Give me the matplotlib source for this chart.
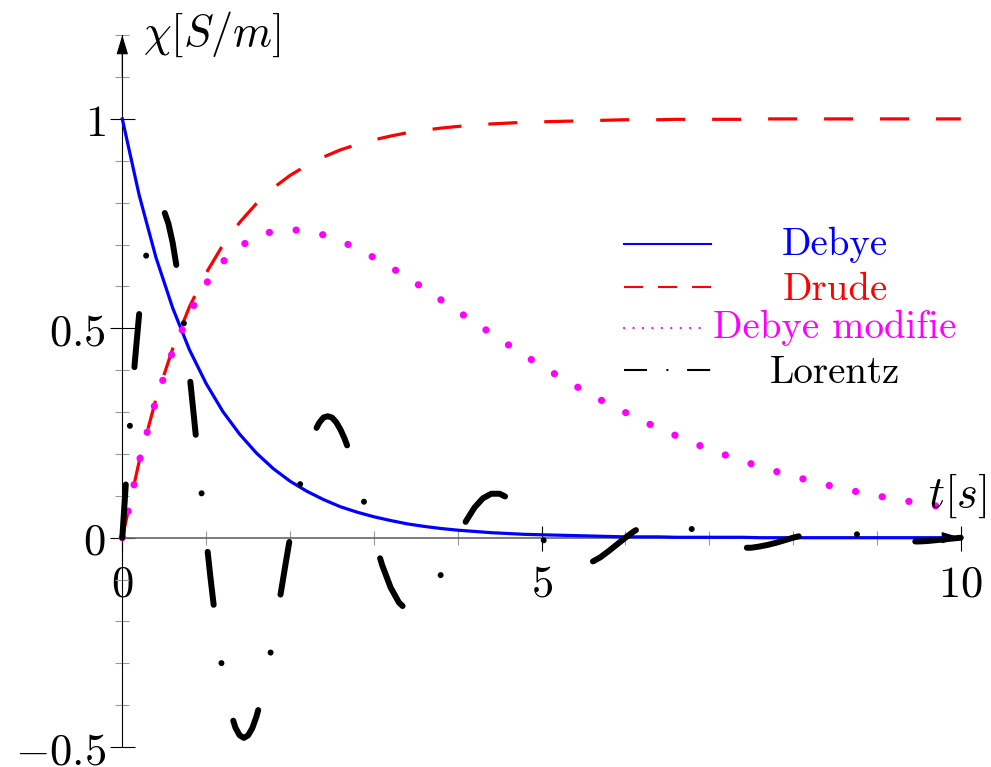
import numpy as np
import matplotlib
matplotlib.use('Agg')
import matplotlib.pyplot as plt
from matplotlib.lines import Line2D

plt.rcParams['mathtext.fontset'] = 'cm'
plt.rcParams['lines.scale_dashes'] = False     # dash patterns in points

# ---- data ----
t_smooth = np.linspace(0, 10, 51)              # every 0.2 s
debye = [1.000, 0.819, 0.670, 0.549, 0.449, 0.368, 0.301, 0.247, 0.202, 0.165,
         0.135, 0.111, 0.091, 0.074, 0.061, 0.050, 0.041, 0.033, 0.027, 0.022,
         0.018, 0.015, 0.012, 0.010, 0.008, 0.007, 0.006, 0.005, 0.004, 0.003,
         0.002, 0.002, 0.002, 0.001, 0.001, 0.001, 0.001, 0.001, 0.000, 0.000,
         0.000, 0.000, 0.000, 0.000, 0.000, 0.000, 0.000, 0.000, 0.000, 0.000,
         0.000]
drude = [0.000, 0.181, 0.330, 0.451, 0.551, 0.632, 0.699, 0.753, 0.798, 0.835,
         0.865, 0.889, 0.909, 0.926, 0.939, 0.950, 0.959, 0.967, 0.973, 0.978,
         0.982, 0.985, 0.988, 0.990, 0.992, 0.993, 0.994, 0.995, 0.996, 0.997,
         0.998, 0.998, 0.998, 0.999, 0.999, 0.999, 0.999, 0.999, 1.000, 1.000,
         1.000, 1.000, 1.000, 1.000, 1.000, 1.000, 1.000, 1.000, 1.000, 1.000,
         1.000]
debye_mod = [0.000, 0.181, 0.327, 0.444, 0.536, 0.607, 0.659, 0.695, 0.719, 0.732,
             0.736, 0.732, 0.723, 0.709, 0.690, 0.669, 0.646, 0.621, 0.595, 0.568,
             0.541, 0.514, 0.488, 0.461, 0.435, 0.410, 0.386, 0.363, 0.340, 0.319,
             0.299, 0.279, 0.261, 0.244, 0.227, 0.211, 0.197, 0.183, 0.170, 0.158,
             0.147, 0.136, 0.126, 0.117, 0.108, 0.100, 0.093, 0.086, 0.079, 0.073,
             0.067]

# Lorentz: every 0.05 s up to 3 s, then every 0.1 s
t_lorentz = np.concatenate([np.linspace(0, 3, 61), np.linspace(3.1, 10, 70)])
lorentz = [0.000, 0.153, 0.294, 0.421, 0.532, 0.624, 0.696, 0.748, 0.779, 0.789,
           0.779, 0.750, 0.705, 0.644, 0.570, 0.486, 0.394, 0.297, 0.197, 0.097,
           0.000, -0.093, -0.178, -0.256, -0.323, -0.379, -0.422, -0.454, -0.472, -0.478,
           -0.472, -0.455, -0.427, -0.390, -0.346, -0.295, -0.239, -0.180, -0.120, -0.059,
           0.000, 0.056, 0.108, 0.155, 0.196, 0.230, 0.256, 0.275, 0.287, 0.290,
           0.287, 0.276, 0.259, 0.237, 0.210, 0.179, 0.145, 0.109, 0.073, 0.036,
           0.000,
           -0.066, -0.119, -0.155, -0.174, -0.174, -0.157, -0.127, -0.088, -0.044, 0.000,
           0.040, 0.072, 0.094, 0.105, 0.105, 0.095, 0.077, 0.053, 0.027, 0.000,
           -0.024, -0.044, -0.057, -0.064, -0.064, -0.058, -0.047, -0.032, -0.016, 0.000,
           0.015, 0.027, 0.035, 0.039, 0.039, 0.035, 0.028, 0.020, 0.010, 0.000,
           -0.009, -0.016, -0.021, -0.024, -0.024, -0.021, -0.017, -0.012, -0.006, 0.000,
           0.005, 0.010, 0.013, 0.014, 0.014, 0.013, 0.010, 0.007, 0.004, 0.000,
           -0.003, -0.006, -0.008, -0.009, -0.009, -0.008, -0.006, -0.004, -0.002, 0.000]

x_major = [0, 5, 10]
x_labels = ['$0$', '$5$', '$10$']
x_minor = [1, 2, 3, 4, 6, 7, 8, 9]
y_major = [-0.5, 0, 0.5, 1]
y_labels = ['$-0.5$', '$0$', '$0.5$', '$1$']
y_minor = [-0.4, -0.3, -0.2, -0.1, 0.1, 0.2, 0.3, 0.4, 0.6, 0.7, 0.8, 0.9, 1.1, 1.2]

names = ['Debye', 'Drude', 'Debye modifie', 'Lorentz']
colors = ['blue', 'red', 'magenta', 'black']

# ---- figure ----
W, H = 991, 767
fig = plt.figure(figsize=(W / 100, H / 100), dpi=100)
ax = fig.add_axes([0, 0, 1, 1])
ax.set_xlim(-1.4586, 10.360)
ax.set_ylim(-0.5475, 1.2839)

ax.plot(t_smooth, debye, color=colors[0], lw=2.3, zorder=3)
ax.plot(t_smooth, drude, color=colors[1], lw=2.3, ls=(0, (20.9, 19.4)),
        dash_capstyle='butt', zorder=3)
ax.plot(t_smooth, debye_mod, color=colors[2], lw=5.2, ls=(0, (0.1, 19.4)),
        dash_capstyle='round', zorder=4)
ax.plot(t_lorentz, lorentz, color=colors[3], lw=4.3, ls=(0, (38.4, 42.3, 0.1, 42.3)),
        dash_capstyle='round', zorder=5)

# axes through the origin
for s in ['top', 'right']:
    ax.spines[s].set_visible(False)
ax.spines['left'].set_position(('data', 0))
ax.spines['left'].set_bounds(-0.5, 1.2)
ax.spines['left'].set_linewidth(0.8)
ax.spines['bottom'].set_position(('data', 0))
ax.spines['bottom'].set_bounds(0, 10)
ax.spines['bottom'].set_linewidth(1.2)
ax.spines['bottom'].set_color('#666666')

ax.set_xticks(x_major, x_labels)
ax.set_xticks(x_minor, minor=True)
ax.set_yticks(y_major, y_labels)
ax.set_yticks(y_minor, minor=True)
ax.tick_params(which='major', direction='inout', length=18, width=0.8,
               labelsize=32, color='black')
ax.tick_params(which='minor', direction='inout', length=9.4, width=0.8, color='#999999')
ax.tick_params(axis='x', which='major', pad=9)
ax.tick_params(axis='y', which='major', pad=3)

arrow = dict(arrowstyle='-|>,head_length=1.2,head_width=0.36', color='black',
             lw=0.8, shrinkA=0, shrinkB=0, mutation_scale=10)
ax.annotate('', xy=(0, 1.2), xytext=(0, 1.1), arrowprops=arrow, zorder=2.6)
ax.annotate('', xy=(10, 0), xytext=(9.8, 0), arrowprops=arrow, zorder=2.6)

fig.text(143 / W, 1 - 46 / H, r'$\chi[S/m]$', fontsize=32, va='baseline', ha='left')
fig.text(928 / W, 1 - 507 / H, r'$t[s]$', fontsize=32, va='baseline', ha='left')

# hand-made legend
leg_line_y = [244, 287, 328, 370]
leg_text_y = [255, 300, 338, 383]
leg_styles = [dict(ls='-', lw=1.5),
              dict(ls=(0, (13.7, 10.8)), lw=1.5, dash_capstyle='butt'),
              dict(ls=(0, (0.1, 6.7)), lw=1.6, dash_capstyle='round'),
              dict(ls=(0, (16.6, 13.9, 1.44, 13.5)), lw=1.5, dash_capstyle='butt')]
leg_x_end = [711, 711, 702, 711]
for name, c, ly, ty, st, xe in zip(names, colors, leg_line_y, leg_text_y, leg_styles, leg_x_end):
    fig.add_artist(Line2D([624 / W, xe / W], [1 - ly / H, 1 - ly / H],
                          transform=fig.transFigure, color=c, **st))
    fig.text(835 / W, 1 - ty / H, name, color=c, fontsize=28, family='cmr10',
             ha='center', va='baseline')

fig.savefig('out.png', dpi=100, facecolor='white')
